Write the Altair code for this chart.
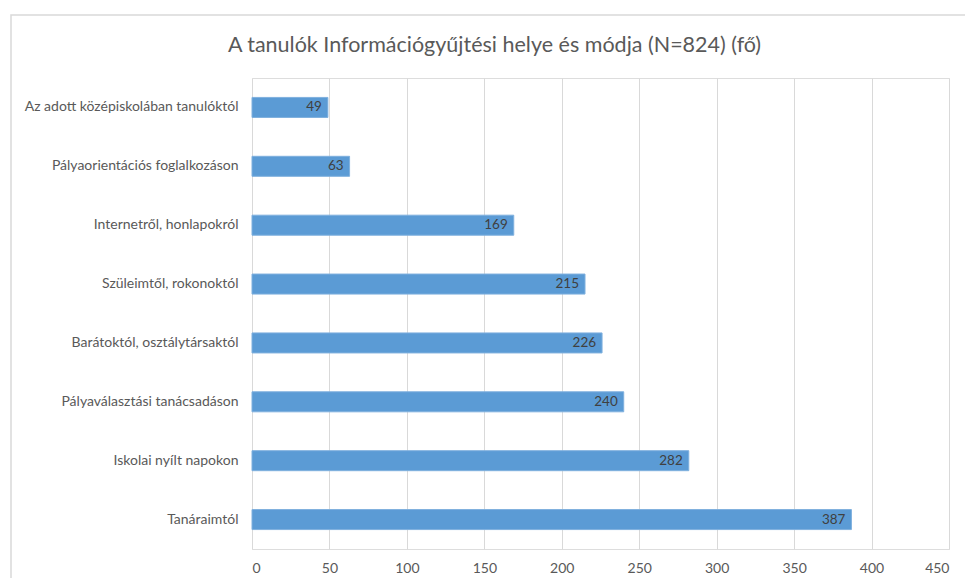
import altair as alt
import pandas as pd

categories = [
    "Az adott középiskolában tanulóktól",
    "Pályaorientációs foglalkozáson",
    "Internetről, honlapokról",
    "Szüleimtől, rokonoktól",
    "Barátoktól, osztálytársaktól",
    "Pályaválasztási tanácsadáson",
    "Iskolai nyílt napokon",
    "Tanáraimtól",
]
values = [49, 63, 169, 215, 226, 240, 282, 387]
x_ticks = [0, 50, 100, 150, 200, 250, 300, 350, 400, 450]

df = pd.DataFrame({"cat": categories, "val": values})
FONT = "Lato"

base = alt.Chart(df).encode(
    y=alt.Y("cat:N", sort=categories, title=None,
            scale=alt.Scale(paddingInner=0.66, paddingOuter=0.33),
            axis=alt.Axis(ticks=False, domain=False, labelPadding=14,
                          labelFontSize=14, labelColor="#595959", labelFont=FONT,
                          labelLimit=300)),
)

bars = base.mark_bar(color="#5B9BD5", stroke="#7FB0DE", strokeWidth=1).encode(
    x=alt.X("val:Q", title=None,
            scale=alt.Scale(domain=[0, 450], nice=False),
            axis=alt.Axis(values=x_ticks, ticks=False, domain=False, labelPadding=12,
                          labelFontSize=14, labelColor="#595959", labelFont=FONT,
                          grid=True, gridColor="#D9D9D9", gridWidth=1)),
)

labels = base.mark_text(align="right", baseline="middle", dx=-6, font=FONT,
                        fontSize=13.5, color="#404040").encode(
    x="val:Q", text="val:Q")

border = alt.Chart(pd.DataFrame({"a": [0]})).mark_rect(
    fill=None, stroke="#D9D9D9", strokeWidth=1.5, clip=False).encode(
    x=alt.value(-241), x2=alt.value(740), y=alt.value(-63), y2=alt.value(560))

chart = alt.layer(border, bars, labels).properties(
    width=697, height=471,
    autosize=alt.AutoSizeParams(type="none"),
    padding={"left": 252, "top": 78, "right": 16, "bottom": 29},
    title=alt.TitleParams("A tanulók Információgyűjtési helye és módja (N=824) (fő)",
                          font=FONT, fontSize=21.5, fontWeight="normal",
                          color="#595959", anchor="middle", frame="group",
                          dx=-106, offset=-42),
).configure_view(stroke=None).configure(background="white")

chart.save("out.html", embed_options={"renderer": "svg", "actions": False})
